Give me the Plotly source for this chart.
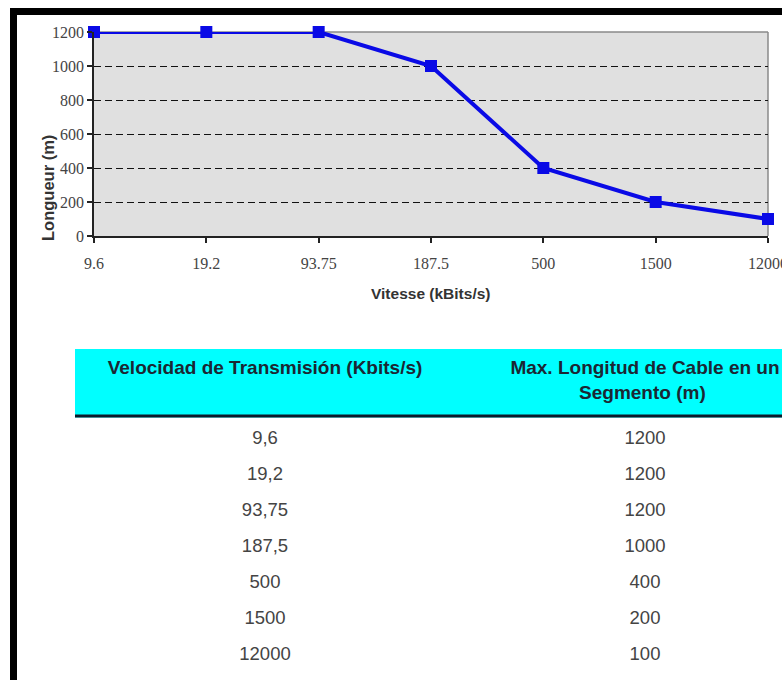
import plotly.graph_objects as go

# ---- data ----
speed_labels = ["9.6", "19.2", "93.75", "187.5", "500", "1500", "12000"]
length_m = [1200, 1200, 1200, 1000, 400, 200, 100]
y_ticks = [0, 200, 400, 600, 800, 1000, 1200]

NB = "\u00a0" * 13  # centring pad for the second header line
table_header = ["<b>Velocidad de Transmisión (Kbits/s)</b>",
                "<b>Max. Longitud de Cable en un<br>" + NB + "Segmento (m)</b>"]
table_speed = ["9,6", "19,2", "93,75", "187,5", "500", "1500", "12000"]
table_length = ["1200", "1200", "1200", "1000", "400", "200", "100"]

# ---- layout geometry (pixels) ----
W, H = 840, 680
PL, PR, PT, PB = 94, 768, 32, 236


def px(x):
    return x / W


def py(y):
    return 1 - y / H


fig = go.Figure()

fig.add_trace(go.Scatter(
    x=speed_labels, y=length_m, mode="lines+markers",
    line=dict(color="#0a0ae6", width=4),
    marker=dict(symbol="square", size=12, color="#0a0ae6"),
    cliponaxis=False, showlegend=False, xaxis="x", yaxis="y",
))

fig.add_trace(go.Table(
    domain=dict(x=[px(75), px(835)], y=[0, py(349)]),
    columnwidth=[1, 1],
    header=dict(values=table_header, fill_color="#00ffff",
                line=dict(color="#00ffff", width=1),
                align="center", height=73,
                font=dict(family="Liberation Sans, Arial", size=19, color="#1b2733")),
    cells=dict(values=[table_speed, table_length], fill_color="white",
               line=dict(color="white", width=1), align="center", height=36,
               font=dict(family="Liberation Sans, Arial", size=18.5, color="#444444")),
))

serif = dict(family="Liberation Serif, Times New Roman", size=16, color="#444444")

fig.update_layout(
    width=W, height=H,
    margin=dict(l=0, r=0, t=0, b=0),
    paper_bgcolor="white", plot_bgcolor="#e0e0e0",
    xaxis=dict(domain=[px(PL), px(PR)], type="category", range=[0, 6],
               showgrid=False, showline=True, linecolor="#222222", linewidth=1.5,
               ticks="outside", ticklen=5, tickcolor="#222222", tickwidth=1.5,
               tickfont=serif, automargin=False, fixedrange=True,
               ticklabelstandoff=7),
    xaxis2=dict(domain=[px(PL), px(PR)], overlaying="x", anchor="y", range=[0, 6],
                tickvals=[0, 1, 2, 3, 4, 5, 6], showticklabels=False,
                ticks="inside", ticklen=7, tickcolor="#222222", tickwidth=1.5,
                showgrid=False, showline=False, zeroline=False, automargin=False),
    yaxis=dict(domain=[py(PB), py(PT)], range=[0, 1200], tickvals=y_ticks,
               showgrid=True, gridcolor="#111111", gridwidth=1, griddash="7px,4px",
               zeroline=False, showline=True, linecolor="#222222", linewidth=1.5,
               ticks="outside", ticklen=5, tickcolor="#222222", tickwidth=1.5,
               tickfont=serif, automargin=False, fixedrange=True),
    annotations=[
        dict(text="<b>Longueur (m)</b>", x=px(37), y=py(133), xref="paper", yref="paper",
             textangle=-90, showarrow=False,
             font=dict(family="Liberation Sans, Arial", size=16.5, color="#333333")),
        dict(text="<b>Vitesse (kBits/s)</b>", x=px(431), y=py(293), xref="paper", yref="paper",
             showarrow=False,
             font=dict(family="Liberation Sans, Arial", size=15.5, color="#333333")),
    ],
    shapes=[
        # plot area top/right border
        dict(type="line", xref="paper", yref="paper", x0=px(PL), x1=px(PR), y0=py(PT), y1=py(PT),
             line=dict(color="#8a8a8a", width=1.5), layer="between"),
        dict(type="line", xref="paper", yref="paper", x0=px(PR), x1=px(PR), y0=py(PT), y1=py(PB),
             line=dict(color="#8a8a8a", width=1.5), layer="between"),
        # white gap under the header rule
        dict(type="rect", xref="paper", yref="paper", x0=px(73), x1=px(837), y0=py(425), y1=py(417.5),
             fillcolor="white", line=dict(width=0), layer="above"),
        # header bottom rule
        dict(type="line", xref="paper", yref="paper", x0=px(75), x1=px(835), y0=py(416), y1=py(416),
             line=dict(color="#0d1b2a", width=3), layer="above"),
        # black frame
        dict(type="rect", xref="paper", yref="paper", x0=px(10), x1=1.0, y0=py(15), y1=py(8),
             fillcolor="black", line=dict(width=0), layer="above"),
        dict(type="rect", xref="paper", yref="paper", x0=px(10), x1=px(17), y0=0, y1=py(8),
             fillcolor="black", line=dict(width=0), layer="above"),
    ],
)

post = ("document.documentElement.style.overflow='hidden';"
        "document.body.style.margin='0';document.body.style.overflow='hidden';"
        "var gd=document.getElementById('{plot_id}');"
        "gd.parentElement.style.width='782px';gd.parentElement.style.overflow='hidden';")

fig.write_html("out.html", config={"displayModeBar": False}, post_script=post)
